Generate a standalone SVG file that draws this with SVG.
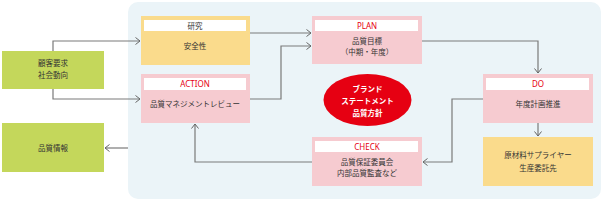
<svg xmlns="http://www.w3.org/2000/svg" width="605" height="202" viewBox="0 0 605 202">
<defs>
<marker id="arr" markerWidth="8" markerHeight="8" refX="6" refY="4" orient="auto" markerUnits="userSpaceOnUse">
<path d="M1.5,0.5 L6,4 L1.5,7.5" fill="none" stroke="#666" stroke-width="1"/>
</marker>
<style>
text{font-family:"Noto Sans CJK JP","Noto Sans",sans-serif;font-size:7.5px;text-anchor:middle;fill:#333;}
.hd{fill:#e60012;font-size:8px;font-family:"Noto Sans","Noto Sans CJK JP",sans-serif;}
.w{fill:#fff;font-weight:bold;}
.pink{fill:#f6cbd0;}
.yel{fill:#fadb8c;}
.grn{fill:#c4d75b;}
.hdr{fill:#fff;}
.ln{fill:none;stroke:#7a7a7a;stroke-width:1.2;marker-end:url(#arr);}
</style>
</defs>
<rect x="128" y="2" width="473" height="197" rx="10" fill="#ebf4f8"/>
<g id="connectors">
<path class="ln" d="M53,51 V41 H140"/>
<path class="ln" d="M53,89 V99 H140"/>
<path class="ln" d="M250,33 H311"/>
<path class="ln" d="M250,99 H281 V46 H311"/>
<path class="ln" d="M422,41 H538 V73"/>
<path class="ln" d="M483,99 H452 V162 H423"/>
<path class="ln" d="M538,123 V136"/>
<path class="ln" d="M312,162 H195 V124"/>
<path class="ln" d="M128,148 H105"/>
</g>
<g id="customer">
<rect class="grn" x="2" y="51" width="102" height="38"/>
<text x="53" y="66">顧客要求</text>
<text x="53" y="78">社会動向</text>
</g>
<g id="info">
<rect class="grn" x="2" y="123" width="102" height="49"/>
<text x="53" y="151">品質情報</text>
</g>
<g id="research">
<rect class="yel" x="141" y="16" width="109" height="49"/>
<rect class="hdr" x="144" y="20" width="102" height="11"/>
<text x="195" y="28.5">研究</text>
<text x="195" y="49">安全性</text>
</g>
<g id="action">
<rect class="pink" x="141" y="74" width="109" height="49"/>
<rect class="hdr" x="144" y="78" width="102" height="12"/>
<text class="hd" x="195" y="87">ACTION</text>
<text x="195" y="107">品質マネジメントレビュー</text>
</g>
<g id="plan">
<rect class="pink" x="312" y="16" width="110" height="48"/>
<rect class="hdr" x="315" y="20" width="103" height="11"/>
<text class="hd" x="367" y="28.5">PLAN</text>
<text x="367" y="44">品質目標</text>
<text x="367" y="55">（中期・年度）</text>
</g>
<g id="do">
<rect class="pink" x="483" y="74" width="110" height="49"/>
<rect class="hdr" x="486" y="78" width="103" height="12"/>
<text class="hd" x="538" y="87">DO</text>
<text x="538" y="107">年度計画推進</text>
</g>
<g id="check">
<rect class="pink" x="312" y="137" width="110" height="49"/>
<rect class="hdr" x="315" y="141" width="103" height="11"/>
<text class="hd" x="367" y="149.5">CHECK</text>
<text x="367" y="165">品質保証委員会</text>
<text x="367" y="176">内部品質監査など</text>
</g>
<g id="supplier">
<rect class="yel" x="483" y="137" width="110" height="49"/>
<text x="538" y="158">原材料サプライヤー</text>
<text x="538" y="171">生産委託先</text>
</g>
<g id="brand">
<ellipse cx="367.5" cy="100" rx="44" ry="26" fill="#e60012"/>
<text class="w" x="367.5" y="92">ブランド</text>
<text class="w" x="367.5" y="104">ステートメント</text>
<text class="w" x="367.5" y="116">品質方針</text>
</g>
</svg>
